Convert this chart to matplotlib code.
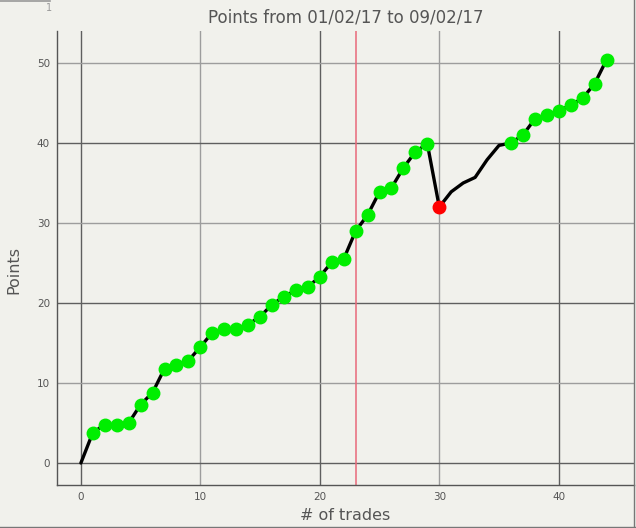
import matplotlib
matplotlib.use("Agg")
import matplotlib.pyplot as plt
from matplotlib.lines import Line2D

trades = list(range(45))
points = [0.0, 3.8, 4.8, 4.8, 5.0, 7.3, 8.8, 11.8, 12.3, 12.8,
          14.5, 16.3, 16.7, 16.8, 17.3, 18.3, 19.8, 20.8, 21.6, 22.0,
          23.3, 25.1, 25.5, 29.0, 31.0, 33.9, 34.4, 36.9, 38.9, 39.9,
          32.0, 33.9, 35.0, 35.7, 37.9, 39.7, 40.0, 41.0, 43.0, 43.5,
          44.0, 44.75, 45.6, 47.4, 50.4]
# 'w' = winning trade, 'l' = losing trade, '' = no marker
results = [''] + ['w'] * 29 + ['l'] + [''] * 5 + ['w'] * 9
marker_line_x = 23
title = "Points from 01/02/17 to 09/02/17"
xlabel = "# of trades"
ylabel = "Points"

bg = "#f1f1ec"
fig = plt.figure(figsize=(6.36, 5.28), dpi=100, facecolor=bg)
ax = fig.add_axes([57/636, 1 - 485/528, (634 - 57)/636, (485 - 31)/528])
ax.set_facecolor(bg)

ax.set_xlim(-2.0, 46.3)
ax.set_ylim(-2.75, 54.0)
ax.set_xticks([0, 10, 20, 30, 40])
ax.set_yticks([0, 10, 20, 30, 40, 50])

# grid lines, alternating dark / light
for v in [0, 10, 20, 30, 40]:
    ax.axvline(v, color="#5f5f5f" if v % 20 == 0 else "#9d9d9d", lw=1, zorder=1)
for v in [0, 10, 20, 30, 40, 50]:
    ax.axhline(v, color="#5f5f5f" if v % 20 == 0 else "#9d9d9d", lw=1, zorder=1)
ax.axvline(marker_line_x, color="#e8687a", lw=1.1, zorder=1)

ax.plot(trades, points, color="black", lw=2.4, zorder=3, solid_capstyle="round")
gx = [t for t, r in zip(trades, results) if r == 'w']
gy = [p for p, r in zip(points, results) if r == 'w']
rx = [t for t, r in zip(trades, results) if r == 'l']
ry = [p for p, r in zip(points, results) if r == 'l']
ax.plot(gx, gy, 'o', color="#00ee00", ms=9, mec="#00ee00", zorder=4)
ax.plot(rx, ry, 'o', color="#ff0000", ms=9, mec="#ff0000", zorder=4)

for s in ["top", "right"]:
    ax.spines[s].set_visible(False)
for s in ["left", "bottom"]:
    ax.spines[s].set_color("#555555")
    ax.spines[s].set_linewidth(1)
ax.tick_params(length=0, labelsize=7.5, labelcolor="#555555")
ax.tick_params(axis="y", pad=5)
ax.tick_params(axis="x", pad=5)

ax.set_title(title, fontsize=12, color="#555555", pad=6)
ax.set_xlabel(xlabel, fontsize=11.5, color="#555555")
ax.set_ylabel(ylabel, fontsize=11.5, color="#555555")
ax.xaxis.set_label_coords((345 - 57) / 577, -(508 - 485) / 454)
ax.yaxis.set_label_coords(-(57 - 21) / 577, (485 - 270) / 454)

# frame lines and small artifact at top left
fig.add_artist(Line2D([633.5/636, 633.5/636], [0, 1], color="#777777", lw=1))
fig.add_artist(Line2D([0, 1], [0.8/528, 0.8/528], color="#777777", lw=1))
fig.add_artist(Line2D([0, 50/636], [1 - 0.8/528, 1 - 0.8/528], color="#999999", lw=1.2))
fig.text(49/636, 1 - 8/528, "1", fontsize=7, color="#999999", ha="center", va="center")

fig.savefig("out.png", dpi=100, facecolor=bg)
